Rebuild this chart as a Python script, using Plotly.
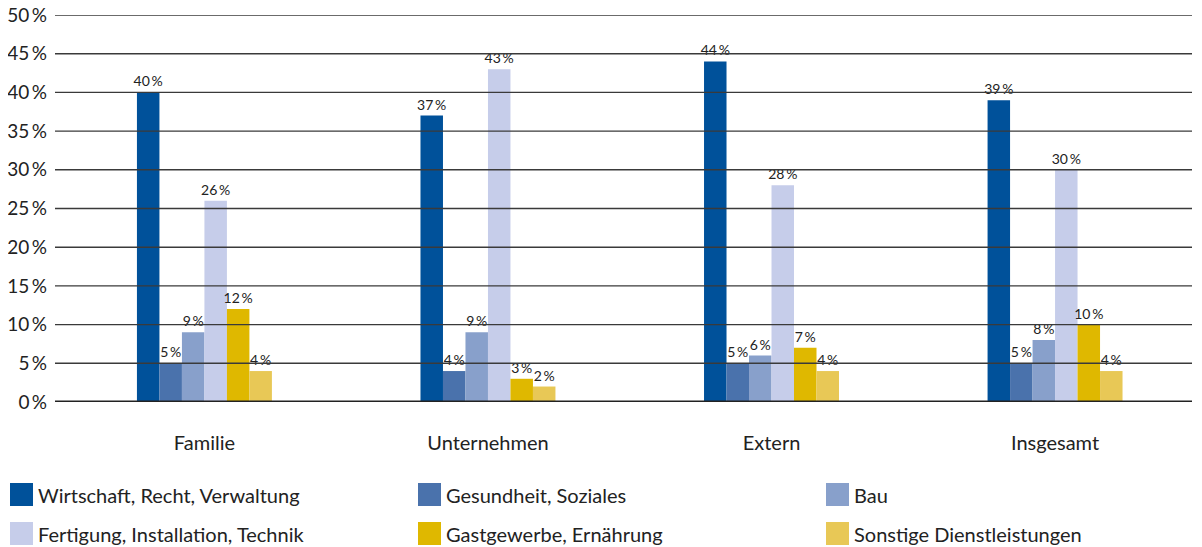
import plotly.graph_objects as go

categories = ["Familie", "Unternehmen", "Extern", "Insgesamt"]

series_names = [
    "Wirtschaft, Recht, Verwaltung",
    "Gesundheit, Soziales",
    "Bau",
    "Fertigung, Installation, Technik",
    "Gastgewerbe, Ernährung",
    "Sonstige Dienstleistungen",
]

wirtschaft = [40, 37, 44, 39]
gesundheit = [5, 4, 5, 5]
bau = [9, 9, 6, 8]
fertigung = [26, 43, 28, 30]
gastgewerbe = [12, 3, 7, 10]
sonstige = [4, 2, 4, 4]

y_ticks = [0, 5, 10, 15, 20, 25, 30, 35, 40, 45, 50]
y_labels = [f"{t}\u2009%" for t in y_ticks]

colors = ["#00519a", "#4a72ac", "#88a0cb", "#c6cdea", "#dfb800", "#e8c856"]

values = [wirtschaft, gesundheit, bau, fertigung, gastgewerbe, sonstige]

font = "Lato"
OFF = 8  # page body margin in the browser
W, H = 1202, 547
L, R, T, B = 55 - OFF, 10 + OFF, 15 - OFF, 145 + OFF
pw, ph = W - L - R, H - T - B


def px(x):
    return (x - OFF - L) / pw


def py(y):
    return (H - B - (y - OFF)) / ph


fig = go.Figure()
for name, vals, col in zip(series_names, values, colors):
    fig.add_trace(go.Bar(
        x=categories,
        y=vals,
        name=name,
        marker=dict(color=col, line=dict(width=0)),
        text=[f"{v}\u2009%" for v in vals],
        textposition="outside",
        constraintext="none",
        cliponaxis=False,
        textfont=dict(family=font, size=14, color="#222222"),
        showlegend=False,
    ))

# gridlines drawn over the bars, as in the original
for t in y_ticks[1:]:
    fig.add_hline(y=t, line=dict(color="#3a3a3a", width=1.4), layer="above")
fig.add_hline(y=0, line=dict(color="#222222", width=3), layer="above")

# legend: 2 rows x 3 columns with large square swatches
col_x = [10, 418, 826]
row_y = [494.5, 533.5]
sw = 23
for i, (name, col) in enumerate(zip(series_names, colors)):
    cx = col_x[i % 3]
    cy = row_y[i // 3]
    fig.add_shape(
        type="rect", xref="paper", yref="paper",
        x0=px(cx), x1=px(cx + sw), y0=py(cy - sw / 2), y1=py(cy + sw / 2),
        fillcolor=col, line=dict(width=0),
    )
    fig.add_annotation(
        xref="paper", yref="paper", x=px(cx + sw + 3), y=py(cy),
        xanchor="left", yanchor="middle", showarrow=False,
        text=name, font=dict(family=font, size=20, color="#222222"),
    )

fig.update_layout(
    width=W,
    height=H,
    margin=dict(l=L, r=R, t=T, b=B),
    paper_bgcolor="white",
    plot_bgcolor="white",
    barmode="group",
    bargap=0.524,
    bargroupgap=0,
    font=dict(family=font, color="#222222"),
    showlegend=False,
    xaxis=dict(
        type="category",
        range=[-0.527, 3.483],
        showgrid=False,
        showline=False,
        ticks="",
        automargin=False,
        ticklabelstandoff=27,
        tickfont=dict(size=20, color="#222222"),
    ),
    yaxis=dict(
        range=[0, 50],
        tickmode="array",
        tickvals=y_ticks,
        ticktext=y_labels,
        showgrid=False,
        zeroline=False,
        showline=False,
        ticks="",
        automargin=False,
        ticklabeloverflow="allow",
        ticklabelstandoff=7,
        tickfont=dict(size=19, color="#222222"),
    ),
)

fig.write_html("out.html")
